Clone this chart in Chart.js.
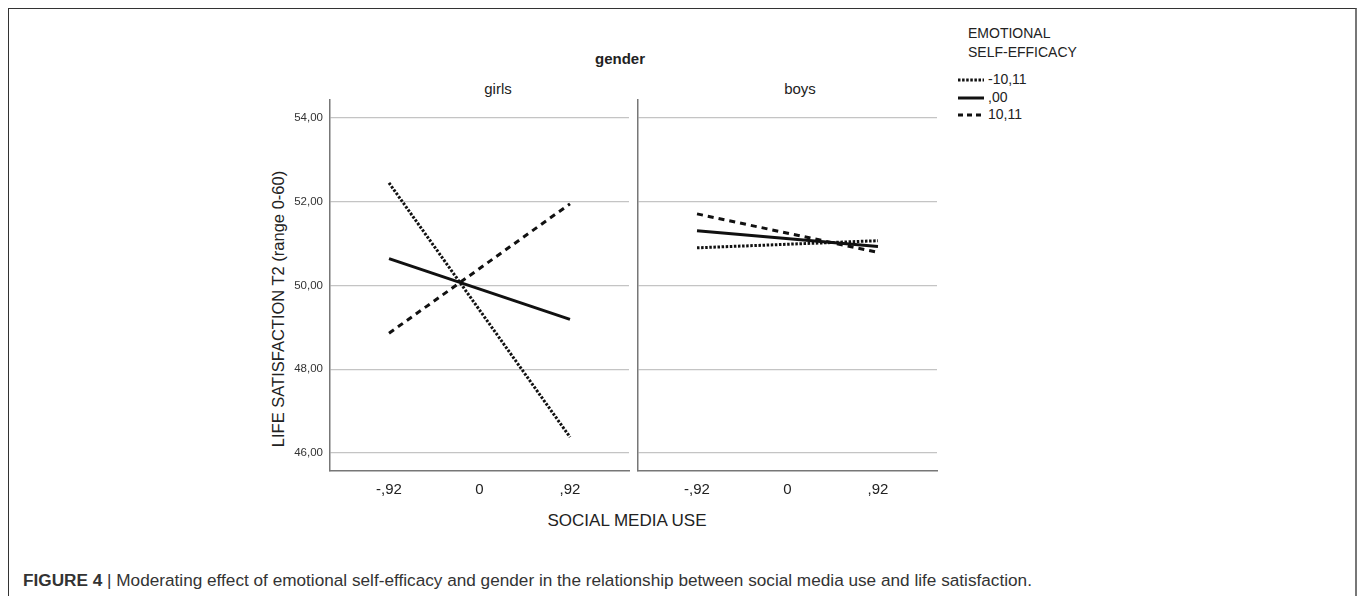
<!DOCTYPE html>
<html>
<head>
<meta charset="utf-8">
<script src="https://cdn.jsdelivr.net/npm/chart.js"></script>
<style>
  body { margin: 0; width: 1358px; height: 596px; position: relative; overflow: hidden; background: #fff;
         font-family: "Liberation Sans", Arial, sans-serif; color: #222; }
  .frame { position: absolute; left: 8px; top: 8px; width: 1346px; height: 620px;
           border-top: 1px solid #333; border-left: 1px solid #333; border-right: 2px solid #777; }
  .txt { position: absolute; white-space: nowrap; line-height: 1; }
  canvas { position: absolute; }
  .leg { position: absolute; left: 958px; font-size: 14px; }
  .leg svg { vertical-align: middle; }
</style>
</head>
<body>
<div class="frame"></div>

<div class="txt" style="left:620px; top:58px; font-weight:bold; font-size:15px; transform:translate(-50%,-50%)">gender</div>
<div class="txt" style="left:498px; top:88px; font-size:15px; transform:translate(-50%,-50%)">girls</div>
<div class="txt" style="left:800px; top:88px; font-size:15px; transform:translate(-50%,-50%)">boys</div>
<div class="txt" style="left:278px; top:309px; font-size:16.5px; transform:translate(-50%,-50%) rotate(-90deg)">LIFE SATISFACTION T2 (range 0-60)</div>
<div class="txt" style="left:627px; top:520px; font-size:17px; transform:translate(-50%,-50%)">SOCIAL MEDIA USE</div>

<div class="txt" style="left:968px; top:24px; font-size:14px; line-height:19px">EMOTIONAL<br>SELF-EFFICACY</div>
<div id="legend"></div>

<div class="txt" style="left:23px; top:572px; font-size:17.2px; color:#333">
  <b>FIGURE 4</b> | Moderating effect of emotional self-efficacy and gender in the relationship between social media use and life satisfaction.
</div>

<canvas id="girlsChart" width="360" height="420" style="left:270px; top:96px"></canvas>
<canvas id="boysChart" width="310" height="420" style="left:630px; top:96px"></canvas>

<script>
// values
const xPoints = [-0.92, 0.92];
const xTicks = [-0.92, 0, 0.92];
const xTickLabels = ["-,92", "0", ",92"];
const yTicks = [46, 48, 50, 52, 54];
const yTickLabels = ["46,00", "48,00", "50,00", "52,00", "54,00"];

const seriesNames = ["-10,11", ",00", "10,11"];
const girlsLow = [52.45, 46.38];
const girlsMid = [50.64, 49.19];
const girlsHigh = [48.86, 51.95];
const boysLow = [50.90, 51.07];
const boysMid = [51.31, 50.93];
const boysHigh = [51.71, 50.79];

const dashes = [[2.5, 1.6], [], [6, 5]];

Chart.defaults.font.family = '"Liberation Sans", Arial, sans-serif';
Chart.defaults.color = "#222";

function toPoints(values) {
  return values.map((v, i) => ({ x: xPoints[i], y: v }));
}

function makeDatasets(series) {
  return series.map((values, i) => ({
    label: seriesNames[i],
    data: toPoints(values),
    borderColor: "#111",
    borderWidth: 3,
    borderDash: dashes[i],
    pointRadius: 0,
    fill: false,
  }));
}

// keep the plot areas at fixed sizes, no extra room for edge labels
function noEdgePadding(s) {
  s.paddingTop = 0;
  s.paddingBottom = 0;
  s.paddingLeft = 0;
  s.paddingRight = 0;
}

function makePanel(id, series, showYTicks, yWidth, padRight) {
  const ctx = document.getElementById(id).getContext("2d");
  return new Chart(ctx, {
    type: "line",
    data: { datasets: makeDatasets(series) },
    options: {
      responsive: false,
      animation: false,
      layout: { padding: { top: 4, right: padRight, left: 0, bottom: 0 } },
      plugins: { legend: { display: false }, tooltip: { enabled: false } },
      scales: {
        x: {
          type: "linear",
          min: -1.52,
          max: 1.52,
          afterBuildTicks: (s) => { s.ticks = xTicks.map((v) => ({ value: v })); },
          afterFit: (s) => { s.height = 45; noEdgePadding(s); },
          grid: { display: false, drawTicks: false },
          border: { display: true, color: "#777", width: 1.5 },
          ticks: {
            padding: 10,
            font: { size: 15 },
            color: "#222",
            callback: (v) => xTickLabels[xTicks.indexOf(v)],
          },
        },
        y: {
          min: 45.57,
          max: 54.43,
          afterBuildTicks: (s) => { s.ticks = yTicks.map((v) => ({ value: v })); },
          afterFit: (s) => { s.width = yWidth; noEdgePadding(s); },
          grid: { color: "#c4c4c4", lineWidth: 1.2, drawTicks: false },
          border: { display: true, color: "#777", width: 1.5 },
          ticks: {
            display: showYTicks,
            padding: 7,
            font: { size: 11.5 },
            color: "#333",
            callback: (v) => yTickLabels[yTicks.indexOf(v)],
          },
        },
      },
    },
  });
}

makePanel("girlsChart", [girlsLow, girlsMid, girlsHigh], true, 60, 1);
makePanel("boysChart", [boysLow, boysMid, boysHigh], false, 8, 3);

// legend built from the series names
const legendTops = [80, 98, 115];
const legend = document.getElementById("legend");
seriesNames.forEach((name, i) => {
  const div = document.createElement("div");
  div.className = "leg";
  div.style.top = (legendTops[i] - 9) + "px";
  const dash = i === 0 ? "2.5 1.6" : i === 2 ? "5 4" : "none";
  div.innerHTML =
    '<svg width="27" height="6"><line x1="0" y1="3" x2="26" y2="3" stroke="#111" stroke-width="3" stroke-dasharray="' +
    dash + '"/></svg><span style="margin-left:3px">' + name + "</span>";
  legend.appendChild(div);
});
</script>
</body>
</html>
